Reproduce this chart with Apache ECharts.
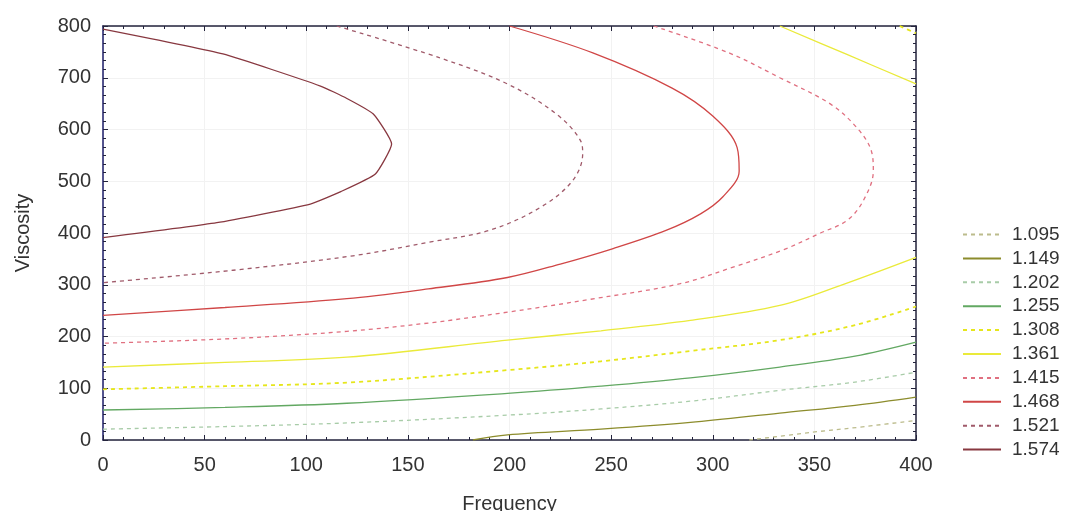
<!DOCTYPE html>
<html>
<head>
<meta charset="utf-8">
<script src="https://cdn.jsdelivr.net/npm/echarts@6/dist/echarts.min.js"></script>
<style>
  html, body { margin: 0; padding: 0; background: #fff; }
  #chart { width: 1067px; height: 511px; }
</style>
</head>
<body>
<div id="chart"></div>
<script>
// contour levels, top to bottom as in the legend
const levels = ['1.095', '1.149', '1.202', '1.255', '1.308', '1.361', '1.415', '1.468', '1.521', '1.574']

// contour paths [frequency, viscosity]
const c1095 = [[318, 0], [349, 15], [375, 26], [400, 38]]
const c1149 = [[182, 0], [199, 10], [245, 21], [289, 34], [333, 52], [370, 67], [400, 83]]
const c1202 = [[0, 21], [60, 26], [120, 33], [199, 48], [245, 60], [289, 75], [333, 96], [370, 112], [400, 131]]
const c1255 = [[0, 58], [60, 63], [120, 71], [199, 90], [245, 104], [289, 120], [333, 141], [370, 162], [400, 189]]
const c1308 = [[0, 98], [60, 104], [120, 111], [199, 135], [245, 152], [289, 172], [333, 193], [370, 222], [400, 258]]
const c1308top = [[392, 800], [400, 786]]
const c1361 = [[0, 141], [60, 150], [120, 160], [199, 193], [245, 211], [289, 231], [333, 260], [363, 299], [400, 353]]
const c1361top = [[333, 800], [366, 745], [400, 688]]
const c1415 = [[271, 800], [308, 748], [333, 700], [358, 649], [371, 603], [378, 559], [379, 520],
  [374, 462], [366, 424], [353, 400], [335, 368], [310, 334], [284, 302], [240, 272], [199, 247],
  [160, 226], [120, 210], [64, 196], [0, 187]]
const c1468 = [[200, 800], [241, 748], [280, 680], [300, 626], [312, 565], [313, 520], [305, 470],
  [294, 437], [277, 405], [251, 370], [225, 340], [199, 314], [160, 292], [120, 273], [60, 256], [0, 241]]
const c1521 = [[115, 800], [166, 738], [199, 688], [223, 630], [235, 578], [236, 553], [231, 501],
  [215, 449], [190, 405], [160, 382], [123, 356], [64, 328], [0, 304]]
const c1574 = [[0, 794], [59, 746], [107, 684], [120, 660], [133, 630], [142, 572], [134, 514],
  [117, 480], [102, 456], [56, 420], [0, 391]]

const xTicks = { min: 0, max: 400, interval: 50 }
const yTicks = { min: 0, max: 800, interval: 100 }

const colors = {
  '1.095': '#bcbc8c', '1.149': '#8c8c2c', '1.202': '#a8cca8', '1.255': '#62a862',
  '1.308': '#e6e61c', '1.361': '#eaea3a', '1.415': '#e07080', '1.468': '#d04646',
  '1.521': '#a05a6a', '1.574': '#883840'
}
const dashed = { '1.095': true, '1.202': true, '1.308': true, '1.415': true, '1.521': true }

const paths = [
  ['1.095', c1095], ['1.149', c1149], ['1.202', c1202], ['1.255', c1255],
  ['1.308', c1308], ['1.308', c1308top], ['1.361', c1361], ['1.361', c1361top],
  ['1.415', c1415], ['1.468', c1468], ['1.521', c1521], ['1.574', c1574]
]

const series = paths.map(function (p) {
  const name = p[0]
  return {
    name: name,
    type: 'line',
    data: p[1],
    smooth: name === '1.574' ? 0.15 : 0.35,
    showSymbol: false,
    symbol: 'none',
    silent: true,
    color: colors[name],
    lineStyle: {
      color: colors[name],
      width: name === '1.308' ? 1.8 : 1.3,
      type: dashed[name] ? [4, 4] : 'solid'
    }
  }
})

const frameColor = '#23233c'
const fontFamily = 'Liberation Sans, Arial, sans-serif'
const labelFont = { fontFamily: fontFamily, color: '#333', fontSize: 20 }

const option = {
  animation: false,
  backgroundColor: '#fff',
  grid: { left: 103, right: 151, top: 26, bottom: 71, outerBoundsMode: 'none' },
  legend: {
    orient: 'vertical',
    left: 962,
    top: 225,
    padding: 0,
    itemWidth: 38,
    itemHeight: 14,
    itemGap: 4.9,
    data: levels,
    itemStyle: { color: 'rgba(0,0,0,0)', borderColor: 'rgba(0,0,0,0)', borderWidth: 0 },
    textStyle: { fontFamily: fontFamily, color: '#333', fontSize: 19, lineHeight: 19, padding: [0, 0, 0, 6] }
  },
  xAxis: [
    {
      type: 'value',
      min: xTicks.min, max: xTicks.max, interval: xTicks.interval,
      name: 'Frequency',
      nameLocation: 'middle',
      nameGap: 54,
      nameTextStyle: labelFont,
      axisLine: { lineStyle: { color: frameColor, width: 1.5 } },
      axisTick: { inside: true, length: 5, lineStyle: { color: frameColor } },
      minorTick: { show: true, splitNumber: 5, length: 3, lineStyle: { color: frameColor } },
      axisLabel: Object.assign({ margin: 15 }, labelFont),
      splitLine: { show: true, lineStyle: { color: '#f2f2f2' } }
    },
    {
      type: 'value', position: 'top',
      min: xTicks.min, max: xTicks.max, interval: xTicks.interval,
      axisLine: { onZero: false, lineStyle: { color: frameColor, width: 1.5 } },
      axisTick: { inside: true, length: 5, lineStyle: { color: frameColor } },
      minorTick: { show: true, splitNumber: 5, length: 3, lineStyle: { color: frameColor } },
      axisLabel: { show: false },
      splitLine: { show: false }
    }
  ],
  yAxis: [
    {
      type: 'value',
      min: yTicks.min, max: yTicks.max, interval: yTicks.interval,
      name: 'Viscosity',
      nameLocation: 'middle',
      nameGap: 70,
      nameRotate: 90,
      nameTextStyle: labelFont,
      axisLine: { lineStyle: { color: '#1c1c6a', width: 1.5 } },
      axisTick: { inside: true, length: 5, lineStyle: { color: frameColor } },
      minorTick: { show: true, splitNumber: 6, length: 3, lineStyle: { color: frameColor } },
      axisLabel: Object.assign({ margin: 12 }, labelFont),
      splitLine: { show: true, lineStyle: { color: '#f2f2f2' } }
    },
    {
      type: 'value', position: 'right',
      min: yTicks.min, max: yTicks.max, interval: yTicks.interval,
      axisLine: { show: true, onZero: false, lineStyle: { color: frameColor, width: 1.5 } },
      axisTick: { show: true, inside: true, length: 5, lineStyle: { color: frameColor } },
      minorTick: { show: true, splitNumber: 6, length: 3, lineStyle: { color: frameColor } },
      axisLabel: { show: false },
      splitLine: { show: false }
    }
  ],
  series: series
}

const myChart = echarts.init(document.getElementById('chart'))
myChart.setOption(option)
</script>
</body>
</html>
